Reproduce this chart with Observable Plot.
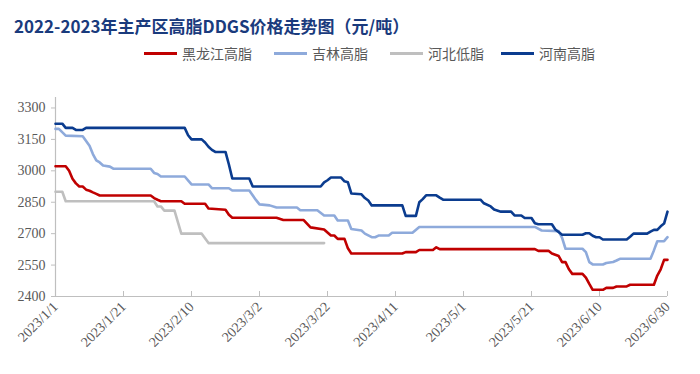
<!DOCTYPE html>
<html><head><meta charset="utf-8">
<script src="https://cdn.jsdelivr.net/npm/d3@7"></script>
<script src="https://cdn.jsdelivr.net/npm/@observablehq/plot@0.6"></script>
<style>
body{margin:0;background:#fff;}
#wrap{position:relative;width:700px;height:374px;overflow:hidden;background:#fff;}
#title{position:absolute;left:14px;top:13px;line-height:24px;font:bold 17px "Noto Sans CJK SC";color:#1a3b7d;white-space:nowrap;}
.lg{position:absolute;top:44px;line-height:18px;height:18px;display:flex;align-items:center;font-size:14px;font-family:"Noto Sans CJK SC";color:#595959;white-space:nowrap;}
.lg .sw{display:inline-block;width:33px;height:3px;margin-right:5px;}
#chart{position:absolute;left:0;top:0;}
</style></head>
<body>
<div id="wrap">
  <div id="chart"></div>
  <div id="title">2022-2023年主产区高脂DDGS价格走势图（元/吨）</div>
  <div id="legend"></div>
</div>
<script>
const seriesNames = ["黑龙江高脂", "吉林高脂", "河北低脂", "河南高脂"];
const seriesColors = ["#c00000", "#8eaadb", "#bfbfbf", "#0b3c8f"];
const legendX = [144, 274, 390, 501];

const heilongjiang = [["1/1",3022],["1/4",3022],["1/5",3000],["1/6",2962],["1/7",2940],["1/8",2925],["1/9",2925],["1/10",2910],["1/11",2905],["1/12",2897],["1/13",2890],["1/14",2882],["1/29",2882],["1/30",2870],["1/31",2862],["2/1",2855],["2/7",2855],["2/8",2843],["2/14",2843],["2/15",2820],["2/20",2814],["2/21",2790],["2/22",2776],["3/7",2776],["3/9",2765],["3/15",2765],["3/17",2730],["3/21",2720],["3/23",2691],["3/24",2691],["3/25",2675],["3/27",2675],["3/28",2630],["3/29",2605],["4/13",2605],["4/14",2612],["4/17",2612],["4/18",2622],["4/22",2622],["4/23",2635],["4/24",2626],["5/22",2626],["5/23",2618],["5/26",2618],["5/27",2605],["5/29",2593],["5/30",2564],["5/31",2564],["6/1",2530],["6/2",2508],["6/5",2508],["6/6",2490],["6/7",2460],["6/8",2432],["6/11",2432],["6/12",2441],["6/14",2441],["6/15",2448],["6/18",2448],["6/19",2456],["6/26",2456],["6/27",2500],["6/28",2530],["6/29",2575],["6/30",2575]];

const jilin = [["1/1",3200],["1/2",3200],["1/4",3168],["1/9",3165],["1/11",3120],["1/12",3080],["1/13",3050],["1/14",3040],["1/15",3025],["1/17",3020],["1/18",3010],["1/29",3010],["1/30",2990],["1/31",2985],["2/1",2973],["2/8",2973],["2/10",2935],["2/15",2935],["2/16",2917],["2/21",2917],["2/22",2906],["2/27",2906],["3/1",2860],["3/2",2840],["3/5",2835],["3/7",2825],["3/13",2825],["3/14",2812],["3/19",2812],["3/21",2787],["3/24",2787],["3/25",2763],["3/28",2763],["3/29",2722],["4/1",2715],["4/2",2700],["4/4",2683],["4/5",2683],["4/6",2691],["4/9",2691],["4/10",2704],["4/16",2704],["4/18",2732],["5/22",2732],["5/24",2715],["5/29",2712],["5/30",2680],["5/31",2628],["6/5",2628],["6/6",2612],["6/7",2564],["6/8",2553],["6/11",2553],["6/12",2560],["6/14",2565],["6/15",2572],["6/16",2580],["6/25",2580],["6/26",2620],["6/27",2664],["6/29",2664],["6/30",2683]];

const hebei = [["1/1",2900],["1/3",2900],["1/4",2855],["1/30",2855],["1/31",2830],["2/1",2830],["2/2",2810],["2/5",2810],["2/7",2700],["2/13",2700],["2/15",2655],["3/21",2655]];

const henan = [["1/1",3225],["1/3",3225],["1/4",3205],["1/6",3205],["1/7",3195],["1/9",3195],["1/10",3205],["2/8",3205],["2/9",3170],["2/10",3150],["2/13",3150],["2/14",3135],["2/15",3115],["2/16",3100],["2/17",3090],["2/20",3090],["2/21",3030],["2/22",2963],["2/27",2963],["2/28",2925],["3/20",2925],["3/21",2945],["3/22",2955],["3/23",2968],["3/26",2968],["3/27",2950],["3/28",2945],["3/29",2892],["4/1",2888],["4/2",2870],["4/3",2858],["4/4",2835],["4/13",2835],["4/14",2785],["4/17",2785],["4/18",2850],["4/19",2865],["4/20",2883],["4/23",2883],["4/24",2872],["4/25",2862],["5/6",2862],["5/7",2845],["5/9",2830],["5/10",2815],["5/12",2805],["5/15",2805],["5/16",2787],["5/18",2787],["5/19",2775],["5/21",2775],["5/22",2750],["5/23",2745],["5/27",2745],["5/28",2720],["5/30",2695],["6/5",2695],["6/6",2702],["6/7",2702],["6/8",2690],["6/9",2683],["6/10",2683],["6/11",2672],["6/18",2672],["6/19",2685],["6/20",2700],["6/24",2700],["6/25",2710],["6/26",2718],["6/27",2718],["6/28",2735],["6/29",2748],["6/30",2805]];

const xTickLabels = ["2023/1/1","2023/1/21","2023/2/10","2023/3/2","2023/3/22","2023/4/11","2023/5/1","2023/5/21","2023/6/10","2023/6/30"];
const yTicks = [2400, 2550, 2700, 2850, 3000, 3150, 3300];

const parseMD = s => { const [m, d] = s.split("/").map(Number); return new Date(Date.UTC(2023, m - 1, d)); };
const parseFull = s => { const [y, m, d] = s.split("/").map(Number); return new Date(Date.UTC(y, m - 1, d)); };
const xTicks = xTickLabels.map(parseFull);
const fmt = d => `${d.getUTCFullYear()}/${d.getUTCMonth() + 1}/${d.getUTCDate()}`;

const allSeries = [heilongjiang, jilin, hebei, henan];
const rows = allSeries.flatMap((s, i) => s.map(([md, v]) => ({name: seriesNames[i], date: parseMD(md), value: v})));

const serif = "Liberation Serif, DejaVu Serif, Times New Roman, serif";
const chart = Plot.plot({
  width: 700, height: 374,
  marginTop: 97, marginBottom: 78, marginLeft: 55, marginRight: 33,
  x: {type: "utc", domain: [xTicks[0], xTicks[xTicks.length - 1]]},
  y: {domain: [2400, 3350]},
  color: {domain: seriesNames, range: seriesColors},
  style: {fontSize: "14px", color: "#595959", background: "transparent"},
  marks: [
    Plot.ruleY([2400], {stroke: "#bfbfbf", strokeWidth: 1.2}),
    Plot.ruleX([xTicks[0]], {stroke: "#bfbfbf", strokeWidth: 1.2}),
    Plot.axisY({ticks: yTicks, tickSize: 4, tickPadding: 6, tickFormat: d => String(d), stroke: "#bfbfbf", fill: "#595959", fontSize: 14, label: null}),
    Plot.axisX({ticks: xTicks, tickSize: -5, tickFormat: () => "", stroke: "#bfbfbf", label: null}),
    Plot.axisX({ticks: xTicks, tickSize: 0, tickPadding: 8, tickRotate: -45, tickFormat: fmt, fill: "#595959", fontSize: 14, label: null}),
    Plot.line(rows, {x: "date", y: "value", z: "name", stroke: "name", strokeWidth: 2.6, curve: "linear"})
  ]
});
chart.style.fontFamily = serif;
chart.querySelectorAll("g, text").forEach(t => { t.removeAttribute("font-family"); t.style.fontFamily = serif; });
document.getElementById("chart").appendChild(chart);

const lg = document.getElementById("legend");
seriesNames.forEach((n, i) => {
  const el = document.createElement("div");
  el.className = "lg";
  el.style.left = legendX[i] + "px";
  el.innerHTML = `<span class="sw" style="background:${seriesColors[i]}"></span>${n}`;
  lg.appendChild(el);
});
</script>
</body></html>
